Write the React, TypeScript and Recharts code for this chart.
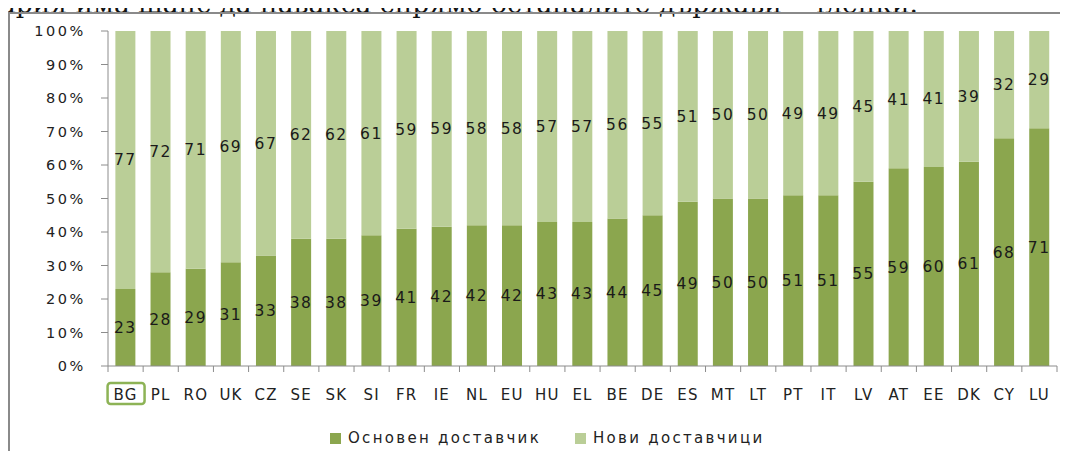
import React from 'react';
import { BarChart, Bar, XAxis, YAxis, Legend, LabelList } from 'recharts';

const countries = ['BG', 'PL', 'RO', 'UK', 'CZ', 'SE', 'SK', 'SI', 'FR', 'IE', 'NL', 'EU', 'HU', 'EL', 'BE', 'DE', 'ES', 'MT', 'LT', 'PT', 'IT', 'LV', 'AT', 'EE', 'DK', 'CY', 'LU'];
const mainSupplier = [23, 28, 29, 31, 33, 38, 38, 39, 41, 42, 42, 42, 43, 43, 44, 45, 49, 50, 50, 51, 51, 55, 59, 60, 61, 68, 71];
const newSuppliers = [77, 72, 71, 69, 67, 62, 62, 61, 59, 59, 58, 58, 57, 57, 56, 55, 51, 50, 50, 49, 49, 45, 41, 41, 39, 32, 29];
const yTicks = [0, 0.1, 0.2, 0.3, 0.4, 0.5, 0.6, 0.7, 0.8, 0.9, 1];

const DARK = '#8BA64E';
const LIGHT = '#BACE97';
const AXIS = '#8c8c8c';
const FONT = '"DejaVu Sans", Verdana, sans-serif';

const data = countries.map((c, i) => ({ name: c, main: mainSupplier[i], extra: newSuppliers[i] }));

// category ticks: boundary tick marks + label, BG gets the green highlight box
const CountryTick = (props: any) => {
  const { x, y, payload, index } = props;
  const half = payload && payload.offset ? payload.offset : 17.5;
  const isLast = index === countries.length - 1;
  return (
    <g>
      <line x1={x - half} y1={y} x2={x - half} y2={y + 6} stroke={AXIS} />
      {isLast && <line x1={x + half} y1={y} x2={x + half} y2={y + 6} stroke={AXIS} />}
      {payload.value === 'BG' && (
        <rect x={x - 18} y={y + 17} width={37} height={21} rx={3} fill="none" stroke="#8DB356" strokeWidth={2.5} />
      )}
      <text x={x} y={y + 34} textAnchor="middle" fontFamily={FONT} fontSize={15} letterSpacing={1.2} fill="#222">
        {payload.value}
      </text>
    </g>
  );
};

const LegendContent = () => (
  <div style={{ display: 'flex', alignItems: 'center', fontFamily: FONT, fontSize: 15, letterSpacing: 2.3, color: '#222' }}>
    <span style={{ display: 'inline-block', width: 11, height: 11, background: DARK, marginRight: 7 }} />
    <span style={{ marginRight: 34 }}>Основен доставчик</span>
    <span style={{ display: 'inline-block', width: 11, height: 11, background: LIGHT, marginRight: 7 }} />
    <span>Нови доставчици</span>
  </div>
);

export default function App() {
  return (
    <div style={{ position: 'relative', width: 1068, height: 459, margin: -8, overflow: 'hidden', background: '#fff' }}>
      {/* heading of the surrounding document, cut off at the top like in the source */}
      <div
        style={{
          position: 'absolute',
          top: -9,
          left: -67,
          whiteSpace: 'nowrap',
          fontFamily: '"DejaVu Serif", serif',
          fontSize: 26.5,
          lineHeight: '26px',
          color: '#111',
        }}
      >
        България има шанс да навакса спрямо останалите държави - членки.
      </div>
      <div
        style={{
          position: 'absolute',
          top: 12,
          left: 8,
          width: 1060,
          height: 447,
          borderTop: '2px solid #8a8a8a',
          borderLeft: '2px solid #8a8a8a',
        }}
      />
      <div style={{ position: 'absolute', top: 0, left: 0 }}>
        <BarChart
          width={1068}
          height={459}
          data={data}
          stackOffset="expand"
          barCategoryGap="21%"
          margin={{ top: 31, right: 11, left: 20, bottom: 33 }}
        >
          <YAxis
            width={88}
            domain={[0, 1]}
            ticks={yTicks}
            tickFormatter={(v: number) => `${Math.round(v * 100)}%`}
            axisLine={{ stroke: AXIS }}
            tickLine={{ stroke: AXIS }}
            tickSize={7}
            tickMargin={15}
            tick={{ fontFamily: FONT, fontSize: 14.5, letterSpacing: 2.6, fill: '#222' }}
          />
          <XAxis
            dataKey="name"
            height={60}
            axisLine={{ stroke: AXIS }}
            tickLine={false}
            tickSize={0}
            tickMargin={0}
            interval={0}
            tick={(p: any) => <CountryTick {...p} />}
          />
          <Legend layout="horizontal" verticalAlign="middle" align="center" content={<LegendContent />} wrapperStyle={{ top: 429, left: 330, width: 'auto' }} />
          <Bar dataKey="main" stackId="a" fill={DARK} isAnimationActive={false}>
            <LabelList dataKey="main" position="center" fontFamily={FONT} fontSize={15.5} letterSpacing={1.5} fill="#1a1a1a" />
          </Bar>
          <Bar dataKey="extra" stackId="a" fill={LIGHT} isAnimationActive={false}>
            <LabelList dataKey="extra" position="center" fontFamily={FONT} fontSize={15.5} letterSpacing={1.5} fill="#1a1a1a" />
          </Bar>
        </BarChart>
      </div>
    </div>
  );
}
